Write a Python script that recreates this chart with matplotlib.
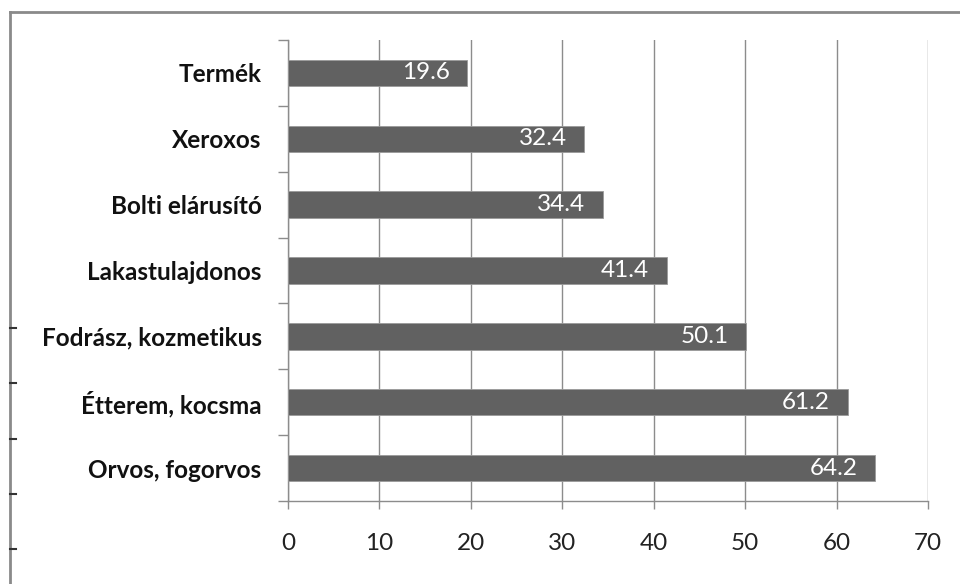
import matplotlib
matplotlib.use("Agg")
import matplotlib.pyplot as plt
from matplotlib.lines import Line2D
import numpy as np

categories = ["Termék", "Xeroxos", "Bolti elárusító", "Lakastulajdonos",
              "Fodrász, kozmetikus", "Étterem, kocsma", "Orvos, fogorvos"]
values = [19.6, 32.4, 34.4, 41.4, 50.1, 61.2, 64.2]
xticks = [0, 10, 20, 30, 40, 50, 60, 70]

plt.rcParams['font.family'] = ['Lato', 'DejaVu Sans']

fig = plt.figure(figsize=(9.6, 5.84), dpi=100)
ax = fig.add_axes([288/960, 1-501/584, (928-288)/960, (501-40)/584])

n = len(categories)
ypos = np.arange(n)[::-1]
ax.barh(ypos, values, height=0.4, color="#616161", edgecolor="#9a9a9a", linewidth=0.6, zorder=3)

for y, v in zip(ypos, values):
    ax.annotate(f"{v:.1f}", xy=(v, y), xytext=(-12.5, 0), textcoords="offset points",
                ha="right", va="center", color="white", fontsize=17.5, zorder=4)

ax.set_xlim(0, 70)
ax.set_ylim(-0.5, n-0.5)
ax.set_xticks(xticks)
ax.set_xticklabels([str(t) for t in xticks], fontsize=17.5, color="#222222")
ax.set_yticks(ypos)
ax.set_yticklabels(categories, fontsize=17.5, fontweight="bold", color="#111111")
ax.set_yticks(np.arange(-0.5, n, 1.0), minor=True)
ax.tick_params(axis="y", which="major", length=0, pad=19)
ax.tick_params(axis="y", which="minor", length=7.5, width=1, color="#8c8c8c", direction="out")
ax.tick_params(axis="x", which="major", length=6, width=1, color="#8c8c8c", direction="out", pad=17)

ax.grid(axis="x", color="#8c8c8c", linewidth=1, zorder=0)
for s in ["top", "right"]:
    ax.spines[s].set_visible(False)
for s in ["left", "bottom"]:
    ax.spines[s].set_color("#8c8c8c")
    ax.spines[s].set_linewidth(1)

# outer frame (chart border) and stray left ticks
fig.add_artist(Line2D([9.5/960, 9.5/960], [0, 1-11.5/584], transform=fig.transFigure,
                      color="#8a8a8a", linewidth=2))
fig.add_artist(Line2D([9.5/960, 1], [1-11.5/584, 1-11.5/584], transform=fig.transFigure,
                      color="#8a8a8a", linewidth=2))
for yy in [328, 383, 439, 494, 549]:
    fig.add_artist(Line2D([9.5/960, 16/960], [1-yy/584, 1-yy/584], transform=fig.transFigure,
                          color="#333333", linewidth=1.5))

fig.savefig("out.png", dpi=100)
